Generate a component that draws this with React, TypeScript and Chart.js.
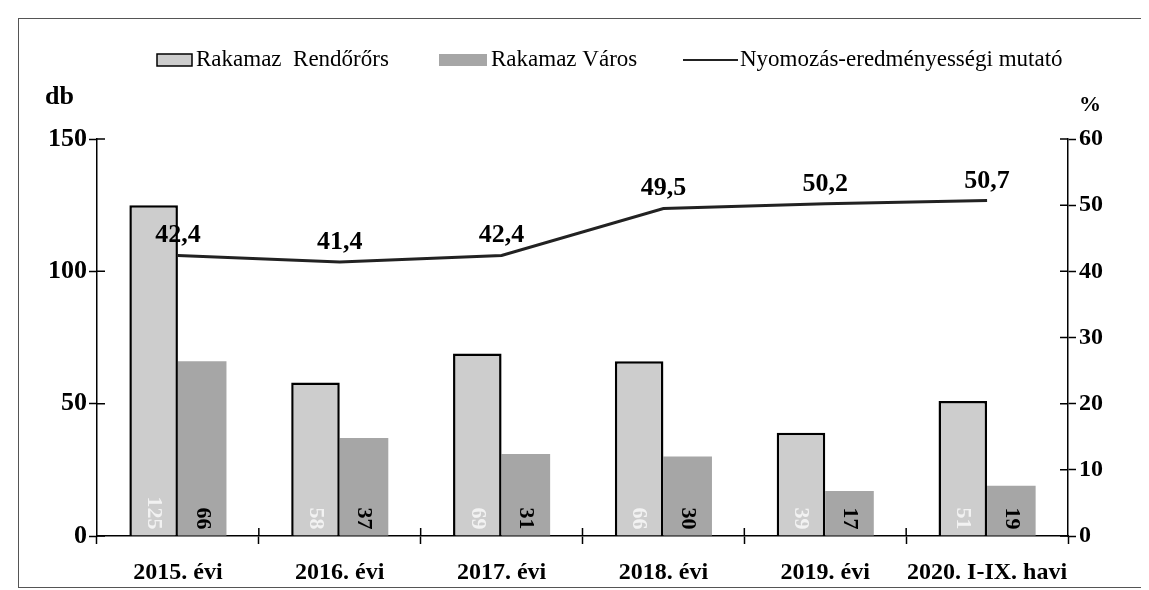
import React, { useEffect, useRef } from "react";
import { Chart, registerables } from "chart.js";

Chart.register(...registerables);

const categories = ["2015. évi", "2016. évi", "2017. évi", "2018. évi", "2019. évi", "2020. I-IX. havi"];
const rendorors = [125, 58, 69, 66, 39, 51];
const varos = [66, 37, 31, 30, 17, 19];
const mutato = [42.4, 41.4, 42.4, 49.5, 50.2, 50.7];
const leftTicks = [0, 50, 100, 150];
const rightTicks = [0, 10, 20, 30, 40, 50, 60];
const seriesNames = ["Rakamaz  Rendőrőrs", "Rakamaz Város", "Nyomozás-eredményességi mutató"];

const FONT = "'Liberation Serif', 'Times New Roman', serif";
const R_FILL = "#cdcdcd";
const V_FILL = "#a6a6a6";
const LINE_COLOR = "#222222";

const fmt = (v: number) => v.toFixed(1).replace(".", ",");

const decorPlugin = {
  id: "decor",
  afterDatasetsDraw(chart: any) {
    const ctx = chart.ctx;
    // bar value labels, rotated, near base
    [0, 1].forEach((di) => {
      const meta = chart.getDatasetMeta(di);
      const ds = chart.data.datasets[di];
      meta.data.forEach((el: any, i: number) => {
        ctx.save();
        ctx.font = `bold 22px ${FONT}`;
        ctx.fillStyle = di === 0 ? "#f2f2f2" : "#000000";
        ctx.translate(el.x, el.base - 6);
        ctx.rotate(Math.PI / 2);
        ctx.textAlign = "right";
        ctx.textBaseline = "middle";
        ctx.fillText(String(ds.data[i]), 0, 0);
        ctx.restore();
      });
    });
    // line labels
    const lm = chart.getDatasetMeta(2);
    const lds = chart.data.datasets[2];
    ctx.save();
    ctx.font = `bold 26px ${FONT}`;
    ctx.fillStyle = "#000";
    ctx.textAlign = "center";
    ctx.textBaseline = "alphabetic";
    lm.data.forEach((el: any, i: number) => {
      ctx.fillText(fmt(lds.data[i]), el.x, el.y - 13);
    });
    ctx.restore();
  },
  afterDraw(chart: any) {
    const ctx = chart.ctx;
    const { x, y, y1 } = chart.scales;
    ctx.save();
    ctx.strokeStyle = "#000";
    ctx.lineWidth = 1.5;
    ctx.beginPath();
    y.ticks.forEach((t: any) => {
      const py = y.getPixelForValue(t.value);
      ctx.moveTo(y.right, py);
      ctx.lineTo(y.right + 8, py);
    });
    y1.ticks.forEach((t: any) => {
      const py = y1.getPixelForValue(t.value);
      ctx.moveTo(y1.left - 8, py);
      ctx.lineTo(y1.left, py);
    });
    for (let i = 1; i < categories.length; i++) {
      const px = (x.getPixelForValue(i - 1) + x.getPixelForValue(i)) / 2;
      ctx.moveTo(px, x.top - 8);
      ctx.lineTo(px, x.top);
    }
    ctx.stroke();

    // axis unit labels
    ctx.fillStyle = "#000";
    ctx.font = `bold 26px ${FONT}`;
    ctx.textBaseline = "middle";
    ctx.textAlign = "left";
    ctx.fillText("db", 26, 78);
    ctx.font = `bold 22px ${FONT}`;
    ctx.fillText("%", 1060, 86);

    // legend
    const ly = 41;
    ctx.font = `23px ${FONT}`;
    ctx.textBaseline = "middle";
    ctx.fillStyle = R_FILL;
    ctx.fillRect(138, ly - 6, 35, 12);
    ctx.strokeStyle = "#000";
    ctx.lineWidth = 1.5;
    ctx.strokeRect(138, ly - 6, 35, 12);
    ctx.fillStyle = "#000";
    ctx.fillText(chart.data.datasets[0].label, 177, ly);

    ctx.fillStyle = V_FILL;
    ctx.fillRect(420, ly - 6, 48, 12);
    ctx.fillStyle = "#000";
    ctx.fillText(chart.data.datasets[1].label, 472, ly);

    ctx.strokeStyle = LINE_COLOR;
    ctx.lineWidth = 2;
    ctx.beginPath();
    ctx.moveTo(664, ly);
    ctx.lineTo(719, ly);
    ctx.stroke();
    ctx.fillStyle = "#000";
    ctx.fillText(chart.data.datasets[2].label, 721, ly);
    ctx.restore();
  },
};

export default function App() {
  const ref = useRef<HTMLCanvasElement | null>(null);

  useEffect(() => {
    if (!ref.current) return;
    const chart = new Chart(ref.current, {
      type: "bar",
      data: {
        labels: categories,
        datasets: [
          {
            type: "bar",
            label: seriesNames[0],
            data: rendorors,
            backgroundColor: R_FILL,
            borderColor: "#000",
            borderWidth: 2.5,
            yAxisID: "y",
            order: 1,
            categoryPercentage: 0.6,
            barPercentage: 1.0,
          },
          {
            type: "bar",
            label: seriesNames[1],
            data: varos,
            backgroundColor: V_FILL,
            borderWidth: 0,
            yAxisID: "y",
            order: 1,
            categoryPercentage: 0.6,
            barPercentage: 1.0,
          },
          {
            type: "line",
            label: seriesNames[2],
            data: mutato,
            borderColor: LINE_COLOR,
            borderWidth: 3,
            pointRadius: 0,
            tension: 0,
            yAxisID: "y1",
            order: 0,
          },
        ],
      } as any,
      options: {
        responsive: false,
        animation: false,
        layout: { padding: { top: 120, left: 0, right: 0, bottom: 0 } },
        plugins: {
          legend: { display: false },
          tooltip: { enabled: false },
        },
        scales: {
          x: {
            grid: {
              drawOnChartArea: false,
              drawTicks: true,
              tickLength: 8,
              tickColor: "#000",
              tickWidth: 1.5,
            },
            border: { display: true, color: "#000", width: 1.5 },
            ticks: {
              color: "#000",
              padding: 14,
              maxRotation: 0,
              autoSkip: false,
              font: { family: FONT, size: 24, weight: "bold" },
            },
            afterFit: (s: any) => {
              s.height = 51;
            },
          },
          y: {
            position: "left",
            min: 0,
            max: 150,
            grid: {
              drawOnChartArea: false,
              tickLength: 8,
              tickColor: "#000",
              tickWidth: 1.5,
            },
            border: { display: true, color: "#000", width: 1.5 },
            ticks: {
              color: "#000",
              padding: 2,
              font: { family: FONT, size: 26, weight: "bold" },
            },
            afterBuildTicks: (s: any) => {
              s.ticks = leftTicks.map((v) => ({ value: v }));
            },
            afterFit: (s: any) => {
              s.width = 78;
            },
          },
          y1: {
            position: "right",
            min: 0,
            max: 60,
            grid: {
              drawOnChartArea: false,
              tickLength: 8,
              tickColor: "#000",
              tickWidth: 1.5,
            },
            border: { display: true, color: "#000", width: 1.5 },
            ticks: {
              color: "#000",
              padding: 3,
              font: { family: FONT, size: 24, weight: "bold" },
            },
            afterBuildTicks: (s: any) => {
              s.ticks = rightTicks.map((v) => ({ value: v }));
            },
            afterFit: (s: any) => {
              s.width = 75;
            },
          },
        },
      } as any,
      plugins: [decorPlugin],
    });
    return () => chart.destroy();
  }, []);

  return (
    <div
      style={{
        marginLeft: 10,
        marginTop: 10,
        width: 1124,
        height: 568,
        border: "1px solid #555",
        background: "#fff",
      }}
    >
      <canvas ref={ref} width={1124} height={568} style={{ display: "block" }} />
    </div>
  );
}
